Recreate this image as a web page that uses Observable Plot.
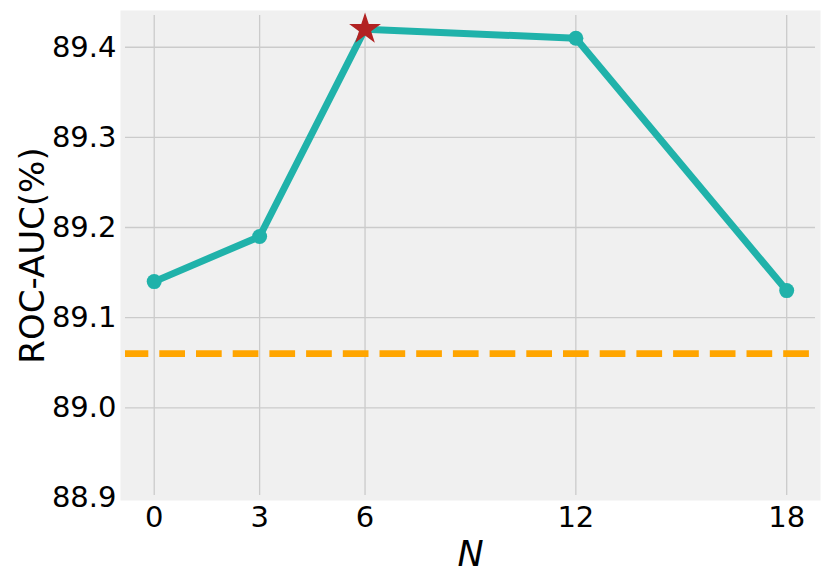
<!DOCTYPE html>
<html><head><meta charset="utf-8">
<script src="https://cdn.jsdelivr.net/npm/d3@7"></script>
<script src="https://cdn.jsdelivr.net/npm/@observablehq/plot@0.6"></script>
<style>body{margin:0;background:#fff;}</style>
</head><body><div id="chart"></div>
<script>
const nValues = [0, 3, 6, 12, 18];
const rocAuc = [89.14, 89.19, 89.42, 89.41, 89.13];
const baselineAuc = 89.06;
const bestN = 6;
const yTicks = [88.9, 89.0, 89.1, 89.2, 89.3, 89.4];
const xTicks = [0, 3, 6, 12, 18];
const yLabel = "ROC-AUC(%)";
const xLabel = "N";

const data = nValues.map((n, i) => ({n, auc: rocAuc[i]}));
const best = data.filter(d => d.n === bestN);
const others = data.filter(d => d.n !== bestN);
const gridStyle = {stroke: "#cbcbcb", strokeOpacity: 1, strokeWidth: 1.3};

const plot = Plot.plot({
  width: 830, height: 586,
  marginLeft: 125, marginRight: 15, marginTop: 15, marginBottom: 91,
  style: {fontFamily: "'DejaVu Sans', sans-serif", background: "#fff", color: "#000"},
  x: {domain: [-0.817, 18.82]},
  y: {domain: [88.9027, 89.4352]},
  marks: [
    Plot.frame({fill: "#f0f0f0", stroke: "none", inset: -5}),
    Plot.gridX(xTicks, gridStyle),
    Plot.gridY(yTicks.filter(t => t >= 89.0), gridStyle),
    Plot.axisX({ticks: xTicks, tickSize: 0, tickPadding: 11, fontSize: 29, label: null}),
    Plot.axisY({ticks: yTicks, tickSize: 0, tickPadding: 9, fontSize: 29, tickFormat: d3.format(".1f"), label: null}),
    Plot.ruleY([baselineAuc], {stroke: "#ffa500", strokeWidth: 6.7, strokeDasharray: "25.7,11", strokeDashoffset: 2.4}),
    Plot.line(data, {x: "n", y: "auc", stroke: "#20b2aa", strokeWidth: 7}),
    Plot.dot(others, {x: "n", y: "auc", r: 7.5, fill: "#20b2aa"}),
    Plot.dot(best, {x: "n", y: "auc", symbol: "star", r: 10, fill: "#b22222"}),
    Plot.text([yLabel], {text: d => d, frameAnchor: "left", textAnchor: "middle", lineAnchor: "middle", rotate: -90, dx: -92, fontSize: 34}),
    Plot.text([xLabel], {text: d => d, frameAnchor: "bottom", textAnchor: "middle", lineAnchor: "middle", dy: 59, fontSize: 35, fontStyle: "italic"})
  ]
});
document.getElementById("chart").appendChild(plot);
</script>
</body></html>
